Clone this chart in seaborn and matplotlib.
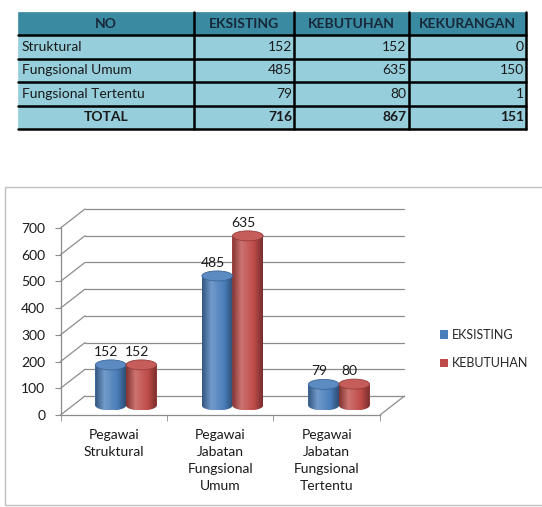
import numpy as np
import pandas as pd
import seaborn as sns
import matplotlib.pyplot as plt
from matplotlib import transforms
from matplotlib.colors import LinearSegmentedColormap, to_rgb
from matplotlib.patches import Ellipse, Polygon, Rectangle, Patch

# table data
table_header = ["NO", "EKSISTING", "KEBUTUHAN", "KEKURANGAN"]
table_rows = ["Struktural", "Fungsional Umum", "Fungsional Tertentu"]
tbl_eksisting = [152, 485, 79]
tbl_kebutuhan = [152, 635, 80]
tbl_kekurangan = [0, 150, 1]

# chart data
categories = ["Pegawai\nStruktural",
              "Pegawai\nJabatan\nFungsional\nUmum",
              "Pegawai\nJabatan\nFungsional\nTertentu"]
series = ["EKSISTING", "KEBUTUHAN"]
eksisting = [152, 485, 79]
kebutuhan = [152, 635, 80]
yticks = [0, 100, 200, 300, 400, 500, 600, 700]

sns.set_style("white")
plt.rcParams['font.family'] = ['Lato', 'DejaVu Sans']

W, H = 542, 507
fig = plt.figure(figsize=(W / 100, H / 100), dpi=100)


def fx(px):
    return px / W


def fy(py):
    return 1 - py / H


# ---- table ----
tax = fig.add_axes([fx(18), fy(129), (526 - 18) / W, (129 - 12) / H])
tax.axis('off')
cell_text = [[r, str(a), str(b), str(c)]
             for r, a, b, c in zip(table_rows, tbl_eksisting, tbl_kebutuhan, tbl_kekurangan)]
cell_text.append(["TOTAL", str(sum(tbl_eksisting)), str(sum(tbl_kebutuhan)),
                  str(sum(tbl_kekurangan))])
col_w = np.array([176, 100, 115, 117], dtype=float)
col_frac = col_w / col_w.sum()
tbl = tax.table(cellText=cell_text, colLabels=table_header, colWidths=list(col_frac),
                cellLoc='right', colLoc='center', bbox=[0, 0, 1, 1])
tbl.auto_set_font_size(False)
tbl.set_fontsize(10)
n_rows = len(cell_text)
for (r, c), cell in tbl.get_celld().items():
    header = r == 0
    total = r == n_rows
    fill = '#3A8BA1' if header else '#96CEDC'
    cell.set_facecolor(fill)
    cell.set_edgecolor(fill)
    cell.set_linewidth(0.5)
    cell.PAD = 0.02
    txt = cell.get_text()
    txt.set_color('#17283a' if header else '#1a1a1a')
    if header or total:
        txt.set_fontweight('bold')
    if c == 0 and not header and not total:
        txt.set_ha('left')
    if c == 0 and total:
        txt.set_ha('center')

# black rules of the table
rule_kw = dict(color='black', lw=1.8, transform=tax.transAxes, clip_on=False, zorder=5)
for xb in np.cumsum(col_frac):
    tax.plot([xb, xb], [0, 1], **rule_kw)
n_all = n_rows + 1
for i in range(n_all):
    yb = i / n_all
    tax.plot([0, 1], [yb, yb], **rule_kw)

# ---- chart frame ----
fig.add_artist(Rectangle((fx(5), fy(505)), 1.0, (505 - 187) / H, transform=fig.transFigure,
                         fill=False, edgecolor='#BFBFBF', lw=1))

# ---- chart ----
ax = fig.add_axes([fx(60.5), fy(415), (380 - 60.5) / W, (415 - 228) / H])
ax.set_facecolor('none')
colors = ["#4A7EBB", "#BE4B48"]
df = pd.DataFrame({
    "kategori": categories * 2,
    "seri": [series[0]] * len(categories) + [series[1]] * len(categories),
    "jumlah": eksisting + kebutuhan,
})
sns.barplot(data=df, x="kategori", y="jumlah", hue="seri", palette=colors, saturation=1,
            width=0.575, gap=0, errorbar=None, legend=False, ax=ax,
            edgecolor='none', linewidth=0)
ax.set_xlim(-0.5, 2.5)
ax.set_ylim(0, 700)

bb = ax.get_window_extent()
xu = bb.width / 3.0
yu = bb.height / 700.0
dx_px, dy_px = 24.5, 19.0
dX, dY = dx_px / xu, dy_px / yu
mid_tr = transforms.offset_copy(ax.transData, fig=fig, x=dx_px / 2, y=dy_px / 2, units='dots')
label_tr = transforms.offset_copy(ax.transData, fig=fig, x=dx_px / 2 - 4.5, y=dy_px / 2,
                                  units='dots')

gray = '#8C8C8C'
grid_kw = dict(color=gray, lw=0.9, clip_on=False, zorder=1)
for v in yticks:
    ax.plot([-0.5, -0.5 + dX], [v, v + dY], **grid_kw)
    ax.plot([-0.5 + dX, 2.5 + dX], [v + dY, v + dY], **grid_kw)
ax.plot([2.5, 2.5 + dX], [0, dY], **grid_kw)

eh = 10 / yu
bars = list(ax.patches)
grad = np.linspace(0, 1, 64).reshape(1, -1)
for bar in bars:
    x0, w, h = bar.get_x(), bar.get_width(), bar.get_height()
    xc = x0 + w / 2
    base = np.array(to_rgb(bar.get_facecolor()))
    dark = base * 0.68
    light = base + (1 - base) * 0.22
    cmap = LinearSegmentedColormap.from_list(
        'cyl', [(0, dark), (0.3, light), (0.72, base), (1, base * 0.62)])
    bar.set_transform(mid_tr)
    bar.set_clip_on(False)
    t = np.linspace(np.pi, 2 * np.pi, 40)
    arc = np.column_stack([xc + w / 2 * np.cos(t), eh / 2 * np.sin(t)])
    verts = np.vstack([arc, [[x0 + w, h], [x0, h]]])
    clip = Polygon(verts, closed=True, transform=mid_tr)
    ax.imshow(grad, cmap=cmap, aspect='auto', extent=(x0, x0 + w, -eh / 2, h),
              transform=mid_tr, zorder=3, interpolation='bilinear', clip_path=clip)
    top = base + (1 - base) * 0.1
    ax.add_patch(Ellipse((xc, h), w, eh, transform=mid_tr, facecolor=top,
                         edgecolor=base * 0.8, lw=0.6, zorder=4, clip_on=False))
    ax.annotate(f"{h:.0f}", (xc, h + eh / 2), xycoords=label_tr, xytext=(0, 1.5),
                textcoords='offset points', ha='center', va='bottom', fontsize=10,
                color='#1a1a1a')

ax.set_xlim(-0.5, 2.5)
ax.set_ylim(0, 700)
for s in ['top', 'right']:
    ax.spines[s].set_visible(False)
for s in ['left', 'bottom']:
    ax.spines[s].set_color(gray)
    ax.spines[s].set_linewidth(0.9)
ax.set_yticks(yticks)
ax.tick_params(axis='y', left=True, length=4, color=gray, pad=7, labelsize=10,
               labelcolor='#1a1a1a')
ax.set_xticks([-0.5, 0.5, 1.5, 2.5], minor=True)
ax.tick_params(axis='x', which='minor', bottom=True, length=4, color=gray)
ax.tick_params(axis='x', which='major', bottom=False, length=0, pad=10, labelsize=10,
               labelcolor='#1a1a1a')
for lab in ax.get_xticklabels():
    lab.set_linespacing(1.52)
ax.set_xlabel('')
ax.set_ylabel('')

handles = [Patch(facecolor=c, edgecolor='none', label=s) for c, s in zip(colors, series)]
fig.legend(handles=handles, loc='center left', bbox_to_anchor=(fx(440), fy(349)),
           frameon=False, handlelength=0.65, handleheight=0.65, handletextpad=0.3,
           labelspacing=1.3, fontsize=9, borderaxespad=0, borderpad=0)

fig.savefig('out.png', dpi=100, facecolor='white')
